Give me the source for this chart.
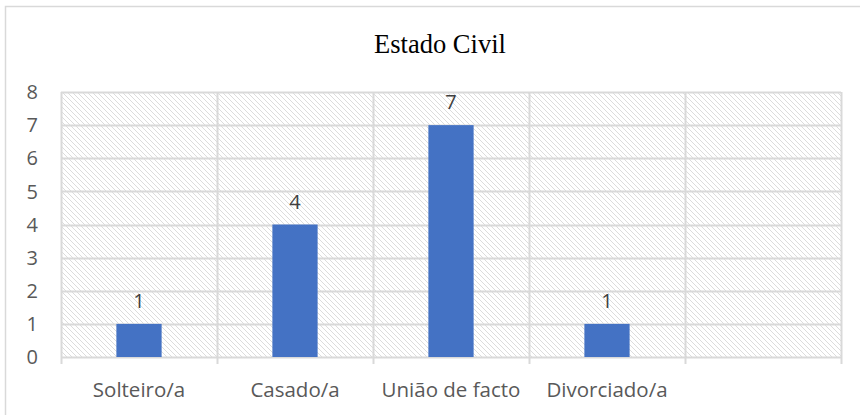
<!DOCTYPE html>
<html>
<head>
<meta charset="utf-8">
<script src="https://cdn.jsdelivr.net/npm/d3@7"></script>
<style>
  body { margin: 0; background: #fff; }
</style>
</head>
<body>
<div id="chart"></div>
<script>
const categories = ["Solteiro/a", "Casado/a", "União de facto", "Divorciado/a", ""];
const values = [1, 4, 7, 1, null];
const yTicks = [0, 1, 2, 3, 4, 5, 6, 7, 8];
const title = "Estado Civil";

const width = 860;
const height = 415;
const margin = { top: 92, right: 19, bottom: 58, left: 61 };

const svg = d3
  .select("#chart")
  .append("svg")
  .attr("width", width)
  .attr("height", height);

// hatch pattern for the plot area
const defs = svg.append("defs");
const pat = defs
  .append("pattern")
  .attr("id", "hatch")
  .attr("patternUnits", "userSpaceOnUse")
  .attr("width", 5)
  .attr("height", 5);
pat.append("rect").attr("width", 5).attr("height", 5).attr("fill", "#fff");
pat
  .append("path")
  .attr("d", "M-1,-1 L6,6 M-1,4 L1,6 M4,-1 L6,1")
  .attr("stroke", "#dcdcdc")
  .attr("stroke-width", 1);

// outer chart border
svg
  .append("rect")
  .attr("x", 5.5)
  .attr("y", 6.5)
  .attr("width", width + 10)
  .attr("height", height + 10)
  .attr("fill", "none")
  .attr("stroke", "#d9d9d9")
  .attr("stroke-width", 1.5);

svg
  .append("text")
  .attr("x", 440)
  .attr("y", 53)
  .attr("text-anchor", "middle")
  .attr("font-family", "Liberation Serif, serif")
  .attr("font-size", 26.5)
  .attr("fill", "#000")
  .text(title);

const x = d3
  .scaleBand()
  .domain(categories.map((d, i) => i))
  .range([margin.left, width - margin.right])
  .paddingInner(0)
  .paddingOuter(0);

const y = d3
  .scaleLinear()
  .domain([0, 8])
  .range([height - margin.bottom, margin.top]);

svg
  .append("rect")
  .attr("x", margin.left)
  .attr("y", y(8))
  .attr("width", x.range()[1] - margin.left)
  .attr("height", y(0) - y(8))
  .attr("fill", "url(#hatch)");

// horizontal gridlines
svg
  .append("g")
  .selectAll("line")
  .data(yTicks)
  .enter()
  .append("line")
  .attr("x1", margin.left)
  .attr("x2", width - margin.right)
  .attr("y1", (d) => Math.round(y(d)) + 0.5)
  .attr("y2", (d) => Math.round(y(d)) + 0.5)
  .attr("stroke", "#d9d9d9")
  .attr("stroke-width", 2);

// vertical category dividers
const bounds = categories.map((d, i) => x(i)).concat([x.range()[1]]);
svg
  .append("g")
  .selectAll("line")
  .data(bounds)
  .enter()
  .append("line")
  .attr("x1", (d) => Math.round(d) + 0.5)
  .attr("x2", (d) => Math.round(d) + 0.5)
  .attr("y1", y(8))
  .attr("y2", y(0) + 7)
  .attr("stroke", "#d9d9d9")
  .attr("stroke-width", 2);

const barW = x.bandwidth() * 0.29;
const data = categories.map((c, i) => ({ i: i, c: c, v: values[i] }));

svg
  .selectAll(".bar")
  .data(data.filter((d) => d.v != null))
  .enter()
  .append("rect")
  .attr("class", "bar")
  .attr("x", (d) => x(d.i) + x.bandwidth() / 2 - barW / 2)
  .attr("y", (d) => y(d.v))
  .attr("width", barW)
  .attr("height", (d) => y(0) - y(d.v))
  .attr("fill", "#4472c4");

svg
  .selectAll(".lbl")
  .data(data.filter((d) => d.v != null))
  .enter()
  .append("text")
  .attr("class", "lbl")
  .attr("x", (d) => x(d.i) + x.bandwidth() / 2)
  .attr("y", (d) => y(d.v) - 16)
  .attr("text-anchor", "middle")
  .attr("font-family", "Open Sans, sans-serif")
  .attr("font-size", 20)
  .attr("fill", "#404040")
  .text((d) => d.v);

svg
  .append("g")
  .selectAll("text")
  .data(yTicks)
  .enter()
  .append("text")
  .attr("x", 38)
  .attr("y", (d) => y(d))
  .attr("dy", "0.36em")
  .attr("text-anchor", "end")
  .attr("font-family", "Open Sans, sans-serif")
  .attr("font-size", 20)
  .attr("fill", "#595959")
  .text((d) => d);

svg
  .append("g")
  .selectAll("text")
  .data(data)
  .enter()
  .append("text")
  .attr("x", (d) => x(d.i) + x.bandwidth() / 2)
  .attr("y", 397)
  .attr("text-anchor", "middle")
  .attr("font-family", "Open Sans, sans-serif")
  .attr("font-size", 20.5)
  .attr("fill", "#595959")
  .text((d) => d.c);
</script>
</body>
</html>
